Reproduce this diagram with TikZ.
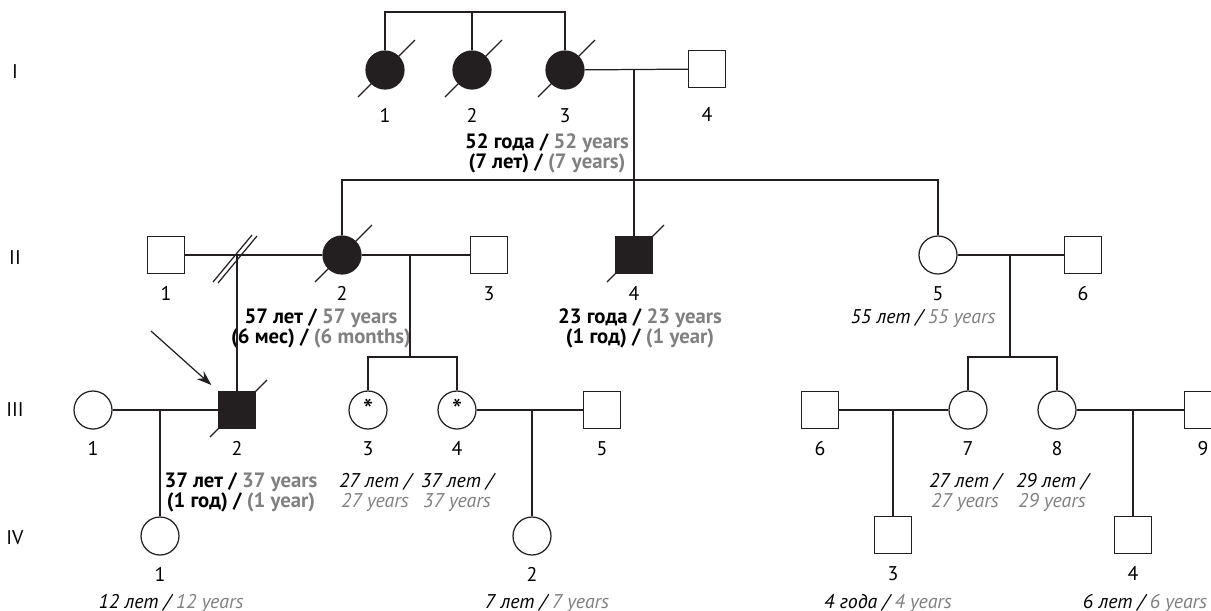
\documentclass[tikz,border=0pt]{standalone}
\usepackage{fontspec}
\setmainfont{PT Sans}
\usepackage{xcolor}
\definecolor{pedblack}{RGB}{35,31,32}
\definecolor{pedgray}{RGB}{128,128,128}
\usepackage{tikz}
\usetikzlibrary{arrows.meta, positioning, calc}
\newcommand{\pedsize}{\fontsize{11.3}{11.6}\selectfont}
\newcommand{\pedbold}{\fontsize{11.8}{11.6}\selectfont\bfseries}
\newcommand{\eng}[1]{\textcolor{pedgray}{#1}}

\begin{document}
\begin{tikzpicture}[x=0.02cm, y=-0.02cm, font=\pedsize,
  ped/.style={draw=pedblack, line width=0.7pt},
  male/.style={ped, rectangle, minimum size=0.74cm, inner sep=0pt, fill=white},
  female/.style={ped, circle, minimum size=0.76cm, inner sep=0pt, fill=white},
  affected/.style={fill=pedblack},
  starred/.style={font=\fontsize{17}{17}\selectfont},
  gen/.style={inner sep=0pt},
  num/.style={anchor=base, inner sep=0pt},
  agebold/.style={anchor=base, inner sep=0pt, align=center, font=\pedbold},
  ageit/.style={anchor=base, inner sep=0pt, align=center, font=\pedsize\itshape}]

  \useasboundingbox (0,0) rectangle (1211,610);

  % Generation labels
  \node[gen] (gI) at (15,72) {I};
  \node[gen] (gII) at (15,258) {II};
  \node[gen] (gIII) at (15,410) {III};
  \node[gen] (gIV) at (15,538) {IV};

  % Generation I
  \node[female, affected] (I1) at (385,70) {};
  \node[female, affected] (I2) at (472,70) {};
  \node[female, affected] (I3) at (565,70) {};
  \node[male] (I4) at (707,69) {};

  % Generation II
  \node[male] (II1) at (166,255) {};
  \node[female, affected] (II2) at (342,255) {};
  \node[male] (II3) at (489,255) {};
  \node[male, affected] (II4) at (634,255) {};
  \node[female] (II5) at (938,255) {};
  \node[male] (II6) at (1083,255) {};

  % Generation III
  \node[female] (III1) at (93,410) {};
  \node[male, affected] (III2) at (237,410) {};
  \node[female, starred] (III3) at (368,410) {*};
  \node[female, starred] (III4) at (457,410) {*};
  \node[male] (III5) at (602,410) {};
  \node[male] (III6) at (820,410) {};
  \node[female] (III7) at (968,410) {};
  \node[female] (III8) at (1057,410) {};
  \node[male] (III9) at (1203,410) {};

  % Generation IV
  \node[female] (IV1) at (160,536) {};
  \node[female] (IV2) at (532,536) {};
  \node[male] (IV3) at (893,535) {};
  \node[male] (IV4) at (1133,535) {};

  % Numbers under the symbols
  \foreach \n/\t in {I1/1, I2/2, I3/3, I4/4}
    \node[num] (n\n) at ($(\n)+(0,52)$) {\t};
  \foreach \n/\t in {II1/1, II2/2, II3/3, II4/4, II5/5, II6/6,
                     III1/1, III2/2, III3/3, III4/4, III5/5, III6/6, III7/7, III8/8, III9/9,
                     IV1/1, IV2/2, IV3/3, IV4/4}
    \node[num] (n\n) at ($(\n)+(0,45)$) {\t};

  % Ages (base = last line)
  \node[agebold] (aI3) at (547,168.5) {52 года / \eng{52 years}\\(7 лет) / \eng{(7 years)}};
  \node[agebold] (aII2) at (321,343.5) {57 лет / \eng{57 years}\\(6 мес) / \eng{(6 months)}};
  \node[agebold] (aII4) at (640,343.5) {23 года / \eng{23 years}\\(1 год) / \eng{(1 year)}};
  \node[ageit] (aII5) at (923,323) {55 лет / \eng{55 years}};
  \node[agebold] (aIII2) at (241,507.5) {37 лет / \eng{37 years}\\(1 год) / \eng{(1 year)}};
  \node[ageit] (aIII3) at (375,507.5) {27 лет /\\\eng{27 years}};
  \node[ageit] (aIII4) at (457,507.5) {37 лет /\\\eng{37 years}};
  \node[ageit] (aIII7) at (965,507.5) {27 лет /\\\eng{27 years}};
  \node[ageit] (aIII8) at (1052,507.5) {29 лет /\\\eng{29 years}};
  \node[ageit] (aIV1) at (171,608) {12 лет / \eng{12 years}};
  \node[ageit] (aIV2) at (547,608) {7 лет / \eng{7 years}};
  \node[ageit] (aIV3) at (888,608) {4 года / \eng{4 years}};
  \node[ageit] (aIV4) at (1145,608) {6 лет / \eng{6 years}};

  % Sibship and marriage lines, generation I
  \coordinate (sI) at (472,12);
  \draw[ped] (I1) |- (sI) -| (I3);
  \draw[ped] (I2) -- (sI);
  \draw[ped] (I3) -- (I4);
  \coordinate (mI) at (634,70);
  \coordinate (sII) at (634,180);
  \draw[ped] (II2) |- (sII) -| (II5);
  \draw[ped] (mI) -- (II4);

  % Generation II
  \draw[ped] (II1) -- (II2);
  \coordinate (mII1) at (III2 |- II2);
  \draw[ped] (mII1) -- (III2);
  \draw[ped] ($(mII1)+(-24,27)$) -- ++(39,-47);
  \draw[ped] ($(mII1)+(-19,28)$) -- ++(39,-47);
  \draw[ped] (II2) -- (II3);
  \coordinate (mII2) at (410,255);
  \coordinate (sIII1) at (410,357);
  \draw[ped] (mII2) -- (sIII1);
  \draw[ped] (III3) |- (sIII1) -| (III4);
  \draw[ped] (II5) -- (II6);
  \coordinate (mII3) at (1010,255);
  \coordinate (sIII2) at (1010,357);
  \draw[ped] (mII3) -- (sIII2);
  \draw[ped] (III7) |- (sIII2) -| (III8);

  % Generation III
  \draw[ped] (III1) -- (III2);
  \coordinate (mIII1) at (160,410);
  \draw[ped] (mIII1) -- (IV1);
  \draw[ped] (III4) -- (III5);
  \coordinate (mIII2) at (532,410);
  \draw[ped] (mIII2) -- (IV2);
  \draw[ped] (III6) -- (III7);
  \coordinate (mIII3) at (893,410);
  \draw[ped] (mIII3) -- (IV3);
  \draw[ped] (III8) -- (III9);
  \coordinate (mIII4) at (1133,410);
  \draw[ped] (mIII4) -- (IV4);

  % Deceased
  \foreach \n in {I1,I2,I3,II2,II4,III2}
    \draw[ped] ($(\n)+(-27,27)$) -- ($(\n)+(30,-30)$);

  % Proband
  \coordinate (arr) at (151,331);
  \draw[ped, -{Stealth[length=8.5pt, width=6pt]}, shorten >=5pt] (arr) -- (III2.north west);

\end{tikzpicture}
\end{document}
